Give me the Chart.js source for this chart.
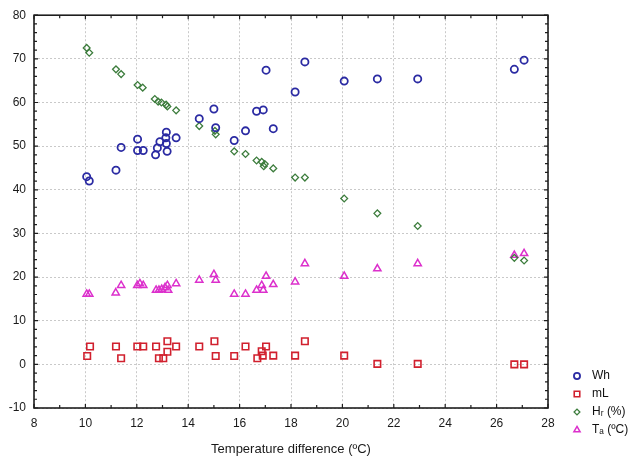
<!DOCTYPE html>
<html><head><meta charset="utf-8">
<script src="https://cdn.jsdelivr.net/npm/chart.js@4/dist/chart.umd.min.js"></script>
<style>html,body{margin:0;padding:0;background:#fff;}</style>
</head><body>
<canvas id="c" width="635" height="460"></canvas>
<script>
const seriesNames = ['Wh', 'mL', 'Hᵣ (%)', 'Tₐ (ºC)'];
const xTitle = 'Temperature difference (ºC)';

const whX = [10.05,10.15,11.19,11.39,12.03,12.03,12.25,12.73,12.80,12.90,13.13,13.15,13.15,13.18,13.53,14.43,15.00,15.07,15.79,16.23,16.66,16.92,17.03,17.31,18.16,18.54,20.07,21.36,22.93,26.69,27.07];
const whY = [43.0,42.0,44.5,49.7,51.6,49.0,49.0,48.0,49.6,51.0,51.9,53.2,50.6,48.8,51.9,56.3,58.5,54.2,51.3,53.5,58.0,58.3,67.4,54.0,62.4,69.3,64.9,65.4,65.4,67.6,69.7];

const mlX = [10.07,10.18,11.19,11.39,12.02,12.25,12.75,12.86,13.03,13.19,13.19,13.53,14.43,15.02,15.07,15.79,16.23,16.69,16.86,16.90,17.03,17.31,18.16,18.54,20.07,21.36,22.93,26.69,27.07];
const mlY = [1.9,4.1,4.1,1.4,4.1,4.1,4.1,1.4,1.4,5.3,2.9,4.1,4.1,5.3,1.9,1.9,4.1,1.4,3.0,2.0,4.1,2.0,2.0,5.3,2.0,0.1,0.1,0.0,0.0];

const hrX = [10.05,10.15,11.19,11.39,12.03,12.23,12.70,12.83,12.96,13.14,13.19,13.53,14.43,15.04,15.07,15.79,16.23,16.66,16.86,16.94,16.98,17.31,18.16,18.54,20.07,21.36,22.93,26.69,27.07];
const hrY = [72.5,71.4,67.6,66.5,64.0,63.4,60.8,60.2,60.0,59.5,59.1,58.2,54.6,53.5,52.7,48.8,48.2,46.7,46.4,45.4,45.9,44.9,42.8,42.8,38.0,34.6,31.7,24.4,23.8];

const taX = [10.05,10.15,11.18,11.39,12.02,12.12,12.25,12.75,12.86,12.97,13.10,13.19,13.22,13.53,14.43,15.00,15.07,15.79,16.23,16.66,16.86,16.92,17.03,17.31,18.16,18.54,20.07,21.36,22.93,26.69,27.07];
const taY = [16.1,16.1,16.4,18.1,18.1,18.5,18.1,17.0,17.0,17.2,17.6,18.1,17.0,18.5,19.3,20.6,19.3,16.1,16.1,17.0,18.1,17.0,20.2,18.3,18.9,23.1,20.2,21.9,23.1,25.0,25.4];

const FONT = '"Liberation Sans", Arial, sans-serif';
const zip = (xs, ys) => xs.map((x, i) => ({x, y: ys[i]}));

const styles = [
  {color: '#2b2ba3', pointStyle: 'circle',   radius: 3.6, borderWidth: 1.8},
  {color: '#d1202e', pointStyle: 'rect',     radius: 4.6, borderWidth: 1.6},
  {color: '#3d7d3d', pointStyle: 'rectRot',  radius: 3.4, borderWidth: 1.3},
  {color: '#dc30cc', pointStyle: 'triangle', radius: 4.2, borderWidth: 1.5}
];
const seriesData = [zip(whX, whY), zip(mlX, mlY), zip(hrX, hrY), zip(taX, taY)];

const datasets = seriesData.map((d, i) => ({
  label: seriesNames[i],
  data: d,
  showLine: false,
  pointStyle: styles[i].pointStyle,
  pointRadius: styles[i].radius,
  pointBorderWidth: styles[i].borderWidth,
  pointBorderColor: styles[i].color,
  pointBackgroundColor: 'rgba(0,0,0,0)',
  pointHoverRadius: styles[i].radius
}));

const framePlugin = {
  id: 'frame',
  afterDraw(chart) {
    const ctx = chart.ctx, a = chart.chartArea;
    const xs = chart.scales.x, ys = chart.scales.y;
    ctx.save();
    ctx.strokeStyle = '#1e1e1e';
    ctx.lineWidth = 1.6;
    ctx.strokeRect(a.left, a.top, a.right - a.left, a.bottom - a.top);
    ctx.lineWidth = 1.2;
    ctx.beginPath();
    for (let v = xs.min; v <= xs.max + 1e-9; v += 1) {
      const p = xs.getPixelForValue(v);
      const L = (Math.round(v) % 2 === 0) ? 4 : 3;
      ctx.moveTo(p, a.bottom); ctx.lineTo(p, a.bottom - L);
      ctx.moveTo(p, a.top); ctx.lineTo(p, a.top + L);
    }
    for (let v = ys.min; v <= ys.max + 1e-9; v += 2) {
      const p = ys.getPixelForValue(v);
      const L = (Math.round(v) % 10 === 0) ? 4 : 3;
      ctx.moveTo(a.left, p); ctx.lineTo(a.left + L, p);
      ctx.moveTo(a.right, p); ctx.lineTo(a.right - L, p);
    }
    ctx.stroke();

    // legend
    const lx = 577, tx = 592, ly0 = 376, step = 18;
    ctx.font = '12px ' + FONT;
    ctx.textBaseline = 'middle';
    ctx.textAlign = 'left';
    chart.data.datasets.forEach((ds, i) => {
      const y = ly0 + i * step;
      ctx.strokeStyle = styles[i].color;
      ctx.fillStyle = 'rgba(0,0,0,0)';
      ctx.lineWidth = styles[i].borderWidth;
      Chart.helpers.drawPoint(ctx, {
        pointStyle: styles[i].pointStyle,
        radius: styles[i].radius * 0.85,
        borderWidth: styles[i].borderWidth,
        rotation: 0
      }, lx, y);
      ctx.fillStyle = '#111';
      ctx.fillText(ds.label, tx, y);
    });
    ctx.restore();
  }
};

new Chart(document.getElementById('c'), {
  type: 'scatter',
  data: {datasets},
  options: {
    responsive: false,
    animation: false,
    layout: {padding: {left: 0, top: 11, right: 87, bottom: 0}},
    plugins: {legend: {display: false}, tooltip: {enabled: false}},
    scales: {
      x: {
        type: 'linear', min: 8, max: 28,
        ticks: {stepSize: 2, padding: 8, color: '#1a1a1a', maxRotation: 0, font: {family: FONT, size: 12}},
        grid: {color: '#c9c9c9', lineWidth: 1, drawTicks: false},
        border: {display: false, dash: [2, 2]},
        title: {display: true, text: xTitle, color: '#1a1a1a', font: {family: FONT, size: 13}, padding: {top: 2, bottom: 3}},
        afterFit(s) { s.height = 52; }
      },
      y: {
        type: 'linear', min: -10, max: 80,
        ticks: {stepSize: 10, padding: 8, color: '#1a1a1a', font: {family: FONT, size: 12}},
        grid: {color: '#c9c9c9', lineWidth: 1, drawTicks: false},
        border: {display: false, dash: [2, 2]},
        afterFit(s) { s.width = 34; }
      }
    }
  },
  plugins: [framePlugin]
});
</script>
</body></html>
